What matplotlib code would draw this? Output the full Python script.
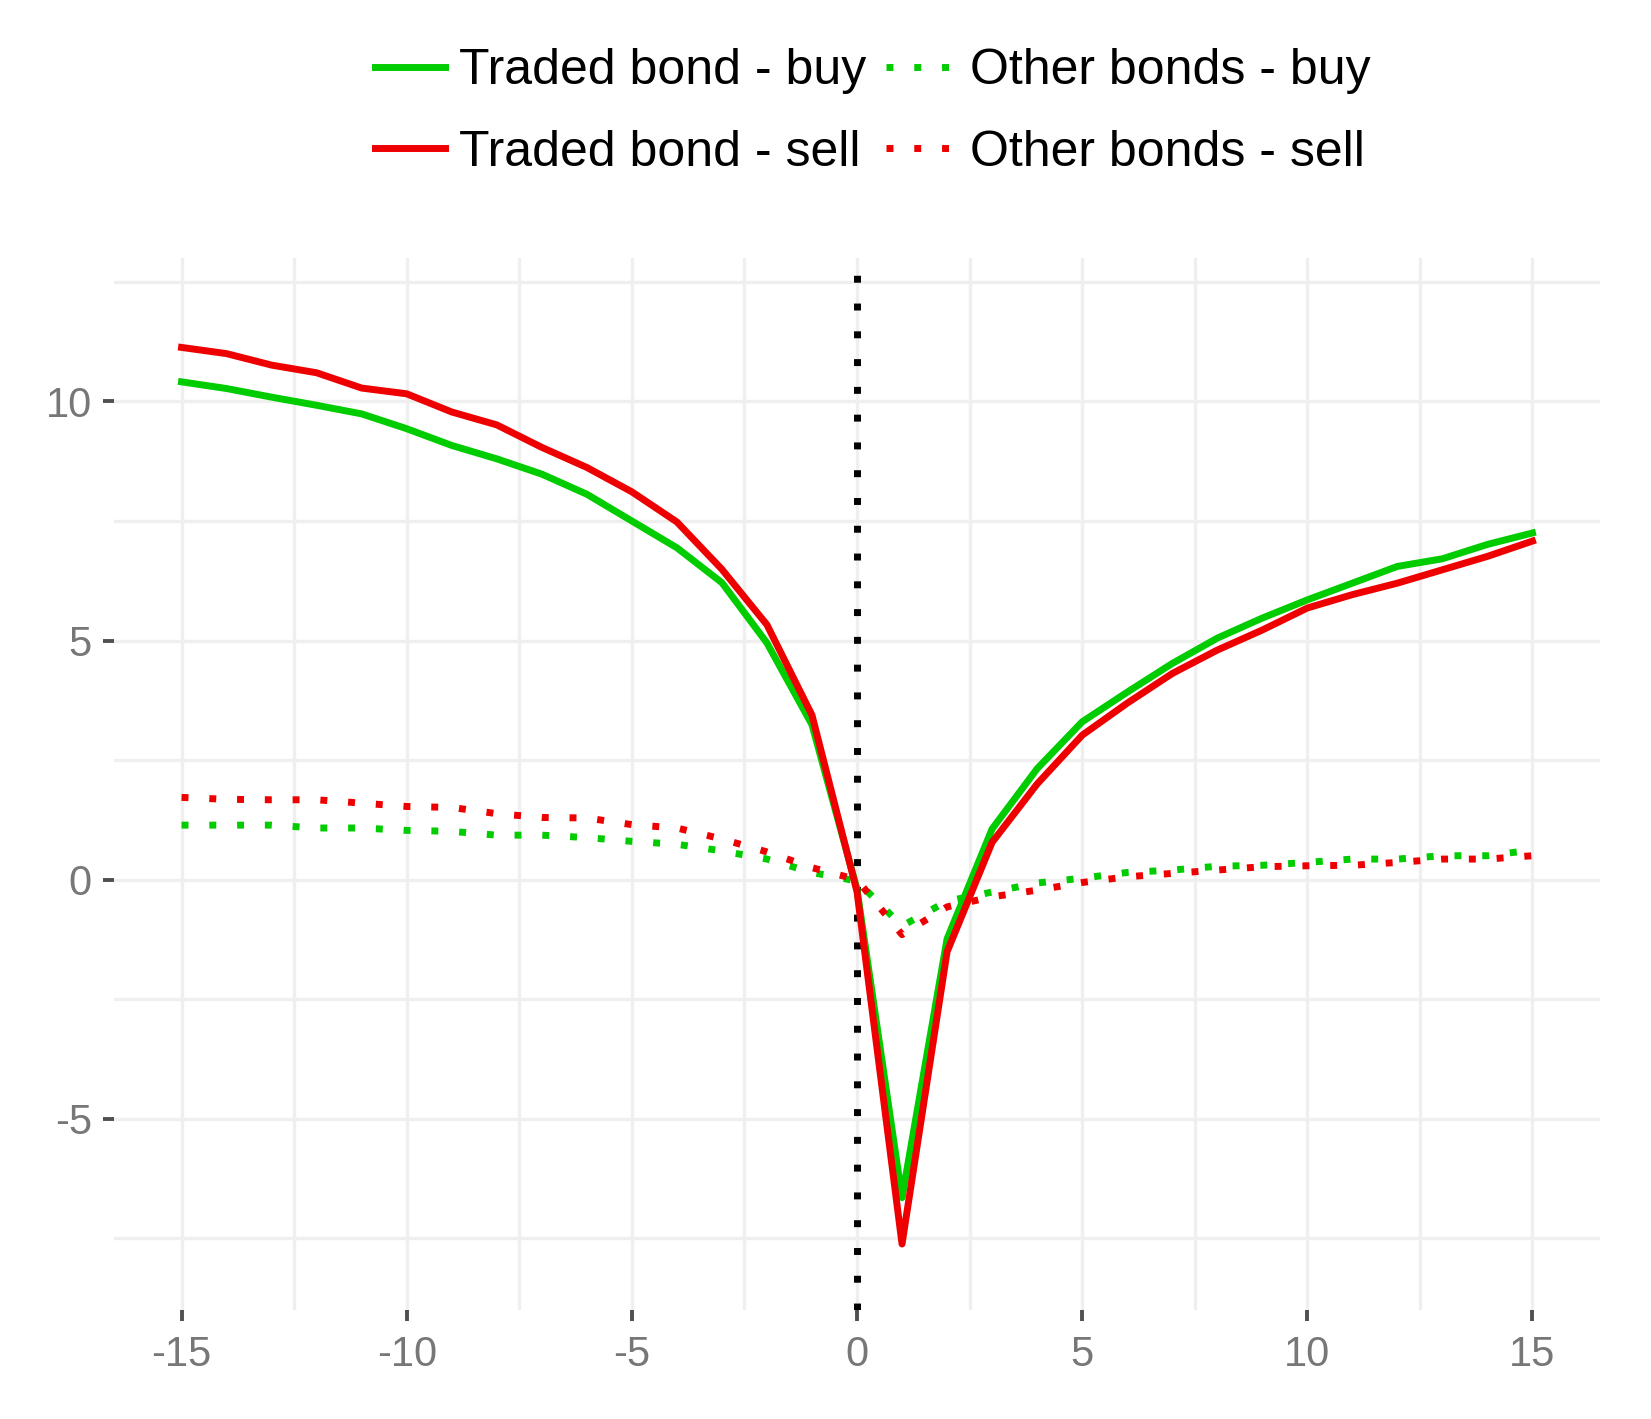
import matplotlib
matplotlib.use('Agg')
import matplotlib.pyplot as plt

plt.rcParams['font.family'] = ['Liberation Sans', 'DejaVu Sans']
plt.rcParams['axes.unicode_minus'] = False

# event time, days relative to the trade
days = list(range(-15, 16))

traded_buy = [10.41, 10.27, 10.09, 9.92, 9.74, 9.43, 9.08, 8.80, 8.48, 8.06,
              7.50, 6.94, 6.21, 4.95, 3.24, -0.20, -6.65, -1.24, 1.06, 2.32,
              3.30, 3.92, 4.52, 5.05, 5.47, 5.85, 6.20, 6.55, 6.71, 7.01, 7.25]
traded_sell = [11.13, 11.00, 10.76, 10.60, 10.28, 10.16, 9.78, 9.51, 9.04, 8.62,
               8.11, 7.48, 6.49, 5.33, 3.44, -0.25, -7.62, -1.51, 0.78, 2.00,
               3.02, 3.69, 4.31, 4.80, 5.22, 5.68, 5.96, 6.20, 6.48, 6.76, 7.08]
other_buy = [1.14, 1.14, 1.14, 1.08, 1.08, 1.03, 1.01, 0.93, 0.93, 0.88,
             0.80, 0.74, 0.60, 0.43, 0.15, -0.03, -0.97, -0.45, -0.26, -0.07,
             0.03, 0.15, 0.20, 0.28, 0.30, 0.36, 0.43, 0.43, 0.50, 0.50, 0.62]
other_sell = [1.72, 1.68, 1.67, 1.67, 1.60, 1.53, 1.51, 1.38, 1.30, 1.29,
              1.15, 1.08, 0.85, 0.58, 0.25, 0.00, -1.15, -0.57, -0.36, -0.22,
              -0.06, 0.06, 0.13, 0.20, 0.27, 0.29, 0.30, 0.36, 0.43, 0.43, 0.50]

x_ticks = [-15, -10, -5, 0, 5, 10, 15]
x_labels = ['-15', '-10', '-5', '0', '5', '10', '15']
y_ticks = [-5, 0, 5, 10]
y_labels = ['-5', '0', '5', '10']

green = '#00CC00'
red = '#EE0000'
lw = 5
dots = (0, (1, 3))

fig = plt.figure(figsize=(16.51, 14.19), dpi=100)
ax = fig.add_axes([114 / 1651, 1 - 1310 / 1419, (1600 - 114) / 1651, (1310 - 258) / 1419])

# grid, major and minor look the same
for xv in [-15, -12.5, -10, -7.5, -5, -2.5, 0, 2.5, 5, 7.5, 10, 12.5, 15]:
    ax.axvline(xv, color='#EFEFEF', lw=2.4, zorder=0)
for yv in [-7.5, -5, -2.5, 0, 2.5, 5, 7.5, 10, 12.5]:
    ax.axhline(yv, color='#EFEFEF', lw=2.4, zorder=0)

ax.axvline(0, color='black', lw=lw, linestyle=dots, zorder=1)

ax.plot(days, traded_buy, color=green, lw=lw, label='Traded bond - buy', zorder=3)
ax.plot(days, traded_sell, color=red, lw=lw, label='Traded bond - sell', zorder=4)
ax.plot(days, other_buy, color=green, lw=lw, linestyle=dots, label='Other bonds - buy', zorder=3)
ax.plot(days, other_sell, color=red, lw=lw, linestyle=dots, label='Other bonds - sell', zorder=4)

ax.set_xlim(-16.5, 16.5)
ax.set_ylim(-9, 13)
ax.set_xticks(x_ticks)
ax.set_xticklabels(x_labels)
ax.set_yticks(y_ticks)
ax.set_yticklabels(y_labels)
ax.tick_params(direction='out', length=8, width=2.8, color='#505050',
               labelcolor='#777777', labelsize=30)
ax.tick_params(axis='x', pad=10)
ax.tick_params(axis='y', pad=8)
for s in ax.spines.values():
    s.set_visible(False)

fig.legend(loc='center', bbox_to_anchor=(873 / 1651, 1 - 112 / 1419), ncol=2,
           frameon=False, fontsize=36, handlelength=1.4, handletextpad=0.28,
           columnspacing=0.4, labelspacing=0.7, borderpad=0)

fig.savefig('out.png', dpi=100)
